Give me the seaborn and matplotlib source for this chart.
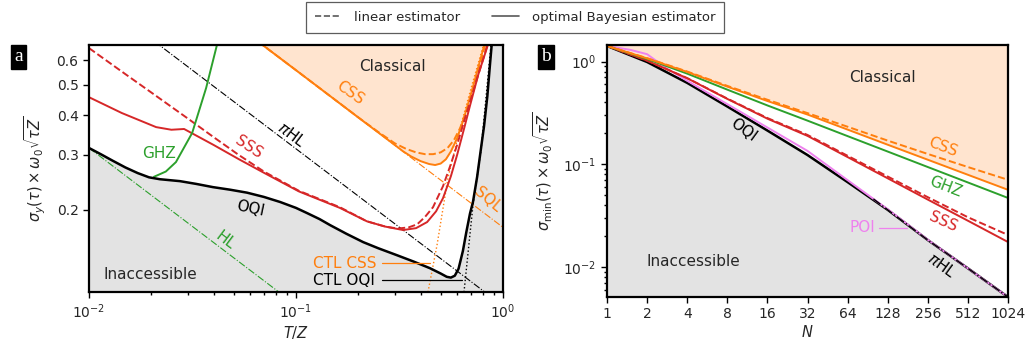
import numpy as np
import matplotlib
matplotlib.use("Agg")
import matplotlib.pyplot as plt
from matplotlib.lines import Line2D
from matplotlib.ticker import NullLocator, FixedLocator, FixedFormatter
import seaborn as sns

# ---------------- Panel a data (x = T/Z) ----------------
oqi_a_x = [0.01, 0.0115, 0.013, 0.015, 0.0172, 0.0195, 0.022, 0.0275, 0.033, 0.0397, 0.048, 0.058, 0.07,
           0.0838, 0.1, 0.113, 0.13, 0.146, 0.175, 0.211, 0.25, 0.3076, 0.37, 0.4436, 0.5, 0.535, 0.56,
           0.585, 0.61, 0.64, 0.665, 0.693, 0.716, 0.75, 0.775, 0.81, 0.84, 0.865, 0.89, 1.0]
oqi_a_y = [0.315, 0.3, 0.287, 0.273, 0.262, 0.254, 0.2505, 0.247, 0.242, 0.2364, 0.232, 0.227, 0.22,
           0.212, 0.203, 0.1955, 0.187, 0.179, 0.168, 0.158, 0.151, 0.1435, 0.137, 0.1305, 0.1255, 0.1225,
           0.1218, 0.1235, 0.13, 0.148, 0.17, 0.195, 0.212, 0.255, 0.299, 0.37, 0.46, 0.58, 0.72, 1.5]

ghz_a_x = [0.0206, 0.0235, 0.0263, 0.0315, 0.0368, 0.0415, 0.045]
ghz_a_y = [0.255, 0.265, 0.284, 0.3515, 0.489, 0.67, 0.82]

sss_opt_x = [0.01, 0.0144, 0.0211, 0.025, 0.0288, 0.04, 0.053, 0.07, 0.1034, 0.163, 0.22, 0.27, 0.329,
             0.38, 0.43, 0.475, 0.513, 0.56, 0.6, 0.65, 0.693, 0.76, 0.845, 0.88]
sss_opt_y = [0.457, 0.407, 0.367, 0.36, 0.362, 0.322, 0.29, 0.2626, 0.229, 0.203, 0.184, 0.177, 0.1726,
             0.175, 0.183, 0.198, 0.218, 0.256, 0.299, 0.365, 0.43, 0.54, 0.67, 0.75]
sss_lin_x = [0.01, 0.015, 0.02, 0.03, 0.04, 0.053, 0.07, 0.1034, 0.163, 0.22, 0.27, 0.31, 0.35, 0.385,
             0.42, 0.459, 0.513, 0.56, 0.6, 0.65, 0.693, 0.76, 0.818, 0.86]
sss_lin_y = [0.655, 0.541, 0.473, 0.391, 0.341, 0.299, 0.265, 0.23, 0.204, 0.184, 0.177, 0.1745, 0.176,
             0.18, 0.19, 0.204, 0.238, 0.28, 0.322, 0.385, 0.441, 0.54, 0.63, 0.71]

css_opt_x = [0.06, 0.1, 0.2, 0.3, 0.33, 0.36, 0.4, 0.44, 0.47, 0.5, 0.53, 0.56, 0.6, 0.64, 0.68, 0.72,
             0.76, 0.8, 0.84, 0.88]
css_opt_y = [0.718, 0.557, 0.394, 0.322, 0.307, 0.296, 0.286, 0.28, 0.278, 0.281, 0.29, 0.307, 0.338,
             0.382, 0.438, 0.5, 0.57, 0.645, 0.725, 0.8]
css_lin_x = [0.06, 0.1, 0.2, 0.25, 0.3, 0.34, 0.38, 0.42, 0.46, 0.5, 0.54, 0.58, 0.62, 0.66, 0.7, 0.74,
             0.78, 0.82, 0.86]
css_lin_y = [0.718, 0.557, 0.394, 0.354, 0.326, 0.313, 0.305, 0.301, 0.301, 0.305, 0.315, 0.334, 0.364,
             0.405, 0.457, 0.518, 0.59, 0.67, 0.75]

sql_x = [0.06, 1.0]
sql_y = [0.7185, 0.176]
hl_x = [0.01, 0.1]
hl_y = [0.315, 0.0996]
pihl_x = [0.01, 1.0]
pihl_y = [0.99, 0.099]

ctl_css_x = [0.434, 0.48, 0.542, 0.62, 0.708, 0.792, 0.82]
ctl_css_y = [0.1095, 0.1545, 0.2526, 0.3643, 0.4995, 0.6457, 0.7]
ctl_oqi_x = [0.648, 0.716, 0.783, 0.875, 0.89]
ctl_oqi_y = [0.1095, 0.207, 0.31, 0.67, 0.74]

# ---------------- Panel b data (N) ----------------
N = [1, 2, 4, 8, 16, 32, 64, 128, 256, 512, 1024]
oqi_b = [1.42, 0.99, 0.62, 0.365, 0.213, 0.123, 0.067, 0.036, 0.0183, 0.0097, 0.0051]
poi_N = [1, 1.5, 2, 2.83, 4, 8, 16, 32, 64, 128, 256, 512, 1024]
poi_b = [1.42, 1.3, 1.18, 0.85, 0.65, 0.385, 0.228, 0.135, 0.07, 0.0365, 0.0184, 0.0097, 0.0051]
css_b_opt = [1.42, 1.074, 0.792, 0.57, 0.413, 0.305, 0.2176, 0.155, 0.1107, 0.079, 0.0564]
css_b_lin = [1.42, 1.08, 0.80, 0.58, 0.425, 0.315, 0.232, 0.17, 0.126, 0.094, 0.0706]
ghz_b = [1.42, 1.058, 0.763, 0.533, 0.374, 0.266, 0.188, 0.133, 0.094, 0.0665, 0.047]
sss_b_opt = [1.42, 1.022, 0.688, 0.433, 0.278, 0.189, 0.1175, 0.073, 0.0453, 0.0282, 0.0175]
sss_b_lin = [1.42, 1.022, 0.69, 0.436, 0.282, 0.193, 0.121, 0.076, 0.0478, 0.0305, 0.0205]
pihl_N = [100, 128, 256, 512, 1024]
pihl_b = [0.046, 0.036, 0.0183, 0.0097, 0.0051]
N_ticks = [1, 2, 4, 8, 16, 32, 64, 128, 256, 512, 1024]

ORANGE = "#ff7f0e"
RED = "#d62728"
GREEN = "#2ca02c"
VIOLET = "violet"
GRAY_FILL = "#e3e3e3"
PEACH = "#ffe4cf"

sns.set_style("ticks")
plt.rcParams["font.family"] = ["DejaVu Sans"]
plt.rcParams["mathtext.fontset"] = "dejavusans"

fig = plt.figure(figsize=(10.3, 3.45), dpi=100)
axa = fig.add_axes([89 / 1030, 53 / 345, 414 / 1030, 247 / 345])
axb = fig.add_axes([607 / 1030, 48 / 345, 401 / 1030, 252 / 345])

for ax in (axa, axb):
    for s in ax.spines.values():
        s.set_linewidth(1.6)
        s.set_color("black")
    ax.tick_params(which="both", direction="out", color="black", labelsize=10, width=1.0)
    ax.tick_params(which="major", length=4)
    ax.tick_params(which="minor", length=2.5)


def line(ax, x, y, **kw):
    sns.lineplot(x=x, y=y, ax=ax, sort=False, estimator=None, legend=False, **kw)


# ----- panel a -----
axa.set_xscale("log")
axa.set_yscale("log")
axa.set_xlim(0.01, 1.0)
axa.set_ylim(0.1096, 0.67)

axa.fill_between(oqi_a_x, 0.05, oqi_a_y, color=GRAY_FILL, lw=0, zorder=0)
axa.fill_between(css_opt_x, css_opt_y, 2.0, color=PEACH, lw=0, zorder=0)

line(axa, hl_x, hl_y, color=GREEN, linestyle="-.", lw=0.8)
line(axa, pihl_x, pihl_y, color="black", linestyle="-.", lw=0.8)
line(axa, sql_x, sql_y, color=ORANGE, linestyle="-.", lw=0.8)
line(axa, ctl_css_x, ctl_css_y, color=ORANGE, linestyle=":", lw=1.0)
line(axa, ctl_oqi_x, ctl_oqi_y, color="black", linestyle=":", lw=1.0)
line(axa, css_lin_x, css_lin_y, color=ORANGE, linestyle="--", lw=1.4)
line(axa, css_opt_x, css_opt_y, color=ORANGE, lw=1.4)
line(axa, sss_lin_x, sss_lin_y, color=RED, linestyle="--", lw=1.4)
line(axa, sss_opt_x, sss_opt_y, color=RED, lw=1.4)
line(axa, ghz_a_x, ghz_a_y, color=GREEN, lw=1.4)
line(axa, oqi_a_x, oqi_a_y, color="black", lw=1.8)

axa.yaxis.set_major_locator(FixedLocator([0.2, 0.3, 0.4, 0.5, 0.6]))
axa.yaxis.set_major_formatter(FixedFormatter(["0.2", "0.3", "0.4", "0.5", "0.6"]))
axa.yaxis.set_minor_locator(NullLocator())
axa.set_xlabel("$T/Z$", fontsize=10.5, labelpad=2)
axa.set_ylabel(r"$\sigma_y(\tau) \times \omega_0\sqrt{\tau Z}$", fontsize=10.5, labelpad=6)

fs = 11
axa.text(0.291, 0.574, "Classical", fontsize=fs, ha="center", va="center")
axa.text(0.0199, 0.125, "Inaccessible", fontsize=fs, ha="center", va="center")
axa.text(0.1824, 0.471, "CSS", fontsize=fs, color=ORANGE, ha="center", va="center", rotation=-35)
axa.text(0.0957, 0.346, r"$\pi$HL", fontsize=fs, color="black", ha="center", va="center", rotation=-37)
axa.text(0.0593, 0.317, "SSS", fontsize=fs, color=RED, ha="center", va="center", rotation=-33)
axa.text(0.0218, 0.303, "GHZ", fontsize=fs, color=GREEN, ha="center", va="center")
axa.text(0.0599, 0.2027, "OQI", fontsize=fs, color="black", ha="center", va="center", rotation=-12)
axa.text(0.0454, 0.160, "HL", fontsize=fs, color=GREEN, ha="center", va="center", rotation=-37)
axa.text(0.846, 0.215, "SQL", fontsize=fs, color=ORANGE, ha="center", va="center", rotation=-40)
axa.text(0.1208, 0.1354, "CTL CSS", fontsize=fs, color=ORANGE, ha="left", va="center")
axa.text(0.1208, 0.1196, "CTL OQI", fontsize=fs, color="black", ha="left", va="center")
axa.plot([0.26, 0.4436], [0.1354, 0.1354], color=ORANGE, lw=0.9)
axa.plot([0.26, 0.634], [0.1196, 0.1196], color="black", lw=0.9)

# ----- panel b -----
axb.set_xscale("log", base=2)
axb.set_yscale("log")
axb.set_xlim(1, 1024)
axb.set_ylim(0.0051, 1.45)

axb.fill_between(N, 1e-4, oqi_b, color=GRAY_FILL, lw=0, zorder=0)
axb.fill_between(N, css_b_opt, 10, color=PEACH, lw=0, zorder=0)

line(axb, N, oqi_b, color="black", lw=1.8)
line(axb, poi_N, poi_b, color=VIOLET, lw=1.4)
line(axb, pihl_N, pihl_b, color="black", linestyle="-.", lw=1.0)
line(axb, N, sss_b_opt, color=RED, lw=1.4)
line(axb, N, sss_b_lin, color=RED, linestyle="--", lw=1.4)
line(axb, N, ghz_b, color=GREEN, lw=1.4)
line(axb, N, css_b_opt, color=ORANGE, lw=1.4)
line(axb, N, css_b_lin, color=ORANGE, linestyle="--", lw=1.4)

axb.xaxis.set_major_locator(FixedLocator(N_ticks))
axb.xaxis.set_major_formatter(FixedFormatter([str(n) for n in N_ticks]))
axb.xaxis.set_minor_locator(NullLocator())
axb.set_xlabel("$N$", fontsize=10.5, labelpad=2)
axb.set_ylabel(r"$\sigma_{\min}(\tau) \times \omega_0\sqrt{\tau Z}$", fontsize=10.5, labelpad=6)

axb.text(116, 0.698, "Classical", fontsize=fs, ha="center", va="center")
axb.text(4.42, 0.0112, "Inaccessible", fontsize=fs, ha="center", va="center")
axb.text(10.5, 0.217, "OQI", fontsize=fs, color="black", ha="center", va="center", rotation=-36)
axb.text(333, 0.148, "CSS", fontsize=fs, color=ORANGE, ha="center", va="center", rotation=-21)
axb.text(345, 0.0604, "GHZ", fontsize=fs, color=GREEN, ha="center", va="center", rotation=-21)
axb.text(333, 0.0275, "SSS", fontsize=fs, color=RED, ha="center", va="center", rotation=-24)
axb.text(327, 0.0104, r"$\pi$HL", fontsize=fs, color="black", ha="center", va="center", rotation=-36)
axb.text(82, 0.024, "POI", fontsize=fs, color=VIOLET, ha="center", va="center")
axb.plot([110, 179], [0.024, 0.024], color=VIOLET, lw=0.9)

# ----- legend -----
handles = [Line2D([], [], color="0.35", linestyle="--", lw=1.2),
           Line2D([], [], color="0.35", linestyle="-", lw=1.2)]
leg = fig.legend(handles, ["linear estimator", "optimal Bayesian estimator"], ncol=2,
                 loc="center", bbox_to_anchor=(515 / 1030, 1 - 17.5 / 345), fontsize=9.5,
                 frameon=True, fancybox=False, handlelength=2.0, columnspacing=2.4,
                 borderpad=0.7, handletextpad=1.0)
leg.get_frame().set_edgecolor("0.2")
leg.get_frame().set_linewidth(0.9)

# ----- panel letters -----
for xp, yp, t in [(18.5, 56.5, "a"), (546, 56.5, "b")]:
    fig.text(xp / 1030, 1 - yp / 345, t, color="white", fontsize=14, family="Liberation Serif",
             ha="center", va="center",
             bbox=dict(boxstyle="square,pad=0.18", facecolor="black", edgecolor="black"))

fig.savefig("out.png", dpi=100)
